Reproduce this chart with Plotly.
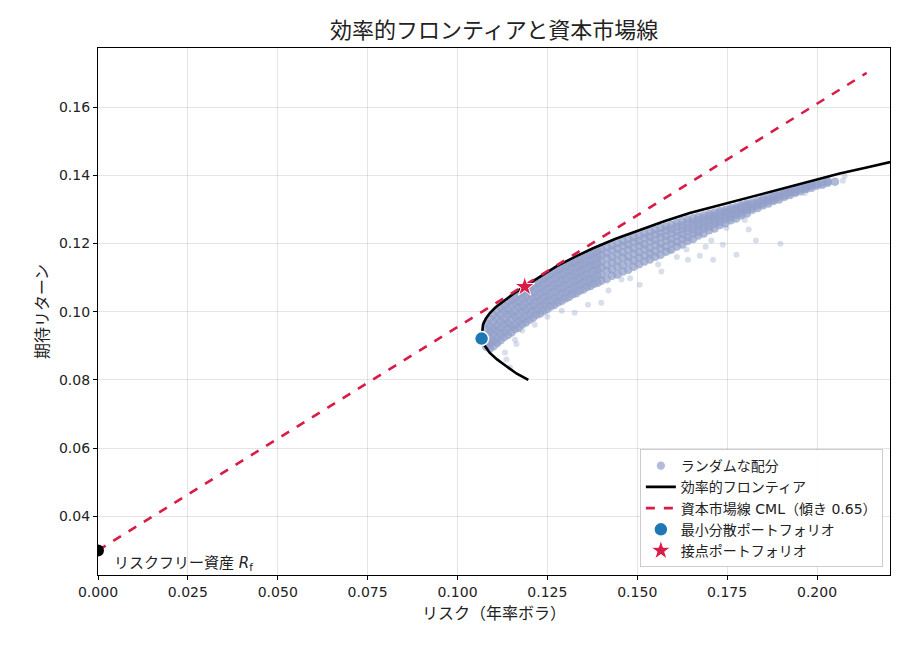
import plotly.graph_objects as go

# efficient frontier (risk, return), bottom branch first
frontier_risk = [0.1197, 0.1165, 0.1136, 0.1110, 0.1090, 0.1076, 0.1067, 0.1068, 0.1071, 0.1079,
                 0.1090, 0.1106, 0.1127, 0.1155, 0.1187, 0.1230, 0.1275, 0.1325, 0.1377, 0.1440,
                 0.1507, 0.1575, 0.1646, 0.1715, 0.1785, 0.1855, 0.1924, 0.1995, 0.2063, 0.2135,
                 0.2207, 0.2240]
frontier_ret = [0.0800, 0.0818, 0.0840, 0.0860, 0.0879, 0.0900, 0.0923, 0.0943, 0.0962, 0.0980,
                0.0996, 0.1013, 0.1030, 0.1052, 0.1074, 0.1104, 0.1133, 0.1160, 0.1186, 0.1214,
                0.1240, 0.1265, 0.1289, 0.1308, 0.1327, 0.1347, 0.1366, 0.1386, 0.1405, 0.1422,
                0.1439, 0.1447]

# capital market line
cml_risk = [0.0, 0.2138]
cml_ret = [0.030, 0.170]

risk_free = 0.030
min_var = (0.1067, 0.0921)
tangent = (0.1187, 0.1073)

# random portfolios: dense band under the frontier, one column of returns per risk value
core_risk = [0.1080, 0.1090, 0.1100, 0.1110, 0.1120, 0.1130, 0.1140, 0.1150, 0.1160, 0.1170,
             0.1180, 0.1190, 0.1200, 0.1210, 0.1220, 0.1230, 0.1240, 0.1250, 0.1260, 0.1270,
             0.1280, 0.1290, 0.1300, 0.1310, 0.1320, 0.1330, 0.1340, 0.1350, 0.1360, 0.1370,
             0.1380, 0.1390, 0.1400, 0.1415, 0.1430, 0.1445, 0.1460, 0.1475, 0.1490, 0.1505,
             0.1520, 0.1535, 0.1550, 0.1565, 0.1580, 0.1595, 0.1610, 0.1625, 0.1640, 0.1655,
             0.1670, 0.1685, 0.1700, 0.1715, 0.1730, 0.1745, 0.1760, 0.1775, 0.1790, 0.1805,
             0.1820, 0.1835, 0.1850, 0.1865, 0.1880, 0.1895, 0.1910, 0.1925, 0.1940, 0.1955,
             0.1970, 0.1985, 0.2000, 0.2015, 0.2030, 0.2050]
core_ret = [
    [0.0897, 0.0913, 0.0931, 0.0947, 0.0966],
    [0.0891, 0.0906, 0.0921, 0.0941, 0.0957, 0.0979],
    [0.0899, 0.0914, 0.0932, 0.0949, 0.0969, 0.0991],
    [0.0909, 0.0925, 0.0945, 0.0961, 0.0982, 0.1002],
    [0.0916, 0.0935, 0.0952, 0.0972, 0.0991, 0.1012],
    [0.0926, 0.0942, 0.0963, 0.0979, 0.1001, 0.1019],
    [0.0932, 0.0951, 0.0967, 0.0990, 0.1007, 0.1028],
    [0.0939, 0.0958, 0.0977, 0.0995, 0.1017, 0.1035],
    [0.0949, 0.0963, 0.0985, 0.1003, 0.1025, 0.1043],
    [0.0953, 0.0973, 0.0990, 0.1012, 0.1030, 0.1050],
    [0.0963, 0.0979, 0.1000, 0.1017, 0.1039, 0.1056],
    [0.0968, 0.0988, 0.1005, 0.1026, 0.1044, 0.1063],
    [0.0976, 0.0993, 0.1014, 0.1031, 0.1053, 0.1070],
    [0.0982, 0.1002, 0.1019, 0.1040, 0.1058, 0.1077],
    [0.0991, 0.1007, 0.1028, 0.1045, 0.1067, 0.1084],
    [0.0995, 0.1016, 0.1033, 0.1054, 0.1071, 0.1091],
    [0.1003, 0.1021, 0.1042, 0.1059, 0.1080, 0.1098],
    [0.1008, 0.1029, 0.1046, 0.1067, 0.1085, 0.1104],
    [0.1016, 0.1033, 0.1054, 0.1072, 0.1093, 0.1110],
    [0.1020, 0.1041, 0.1059, 0.1080, 0.1097, 0.1117],
    [0.1028, 0.1046, 0.1067, 0.1084, 0.1105, 0.1122],
    [0.1032, 0.1054, 0.1071, 0.1092, 0.1109, 0.1128],
    [0.1039, 0.1057, 0.1078, 0.1095, 0.1116, 0.1133],
    [0.1043, 0.1064, 0.1082, 0.1103, 0.1120, 0.1139],
    [0.1051, 0.1068, 0.1089, 0.1106, 0.1127, 0.1144],
    [0.1054, 0.1075, 0.1092, 0.1113, 0.1130, 0.1149],
    [0.1061, 0.1078, 0.1099, 0.1116, 0.1137, 0.1154],
    [0.1065, 0.1086, 0.1103, 0.1124, 0.1140, 0.1159],
    [0.1072, 0.1089, 0.1110, 0.1127, 0.1147, 0.1164],
    [0.1075, 0.1096, 0.1113, 0.1134, 0.1150, 0.1169],
    [0.1082, 0.1099, 0.1120, 0.1137, 0.1157, 0.1174],
    [0.1085, 0.1106, 0.1123, 0.1143, 0.1160, 0.1178],
    [0.1091, 0.1108, 0.1129, 0.1146, 0.1166, 0.1183],
    [0.1096, 0.1119, 0.1136, 0.1157, 0.1173, 0.1189],
    [0.1105, 0.1124, 0.1144, 0.1161, 0.1181, 0.1195],
    [0.1109, 0.1132, 0.1149, 0.1169, 0.1185, 0.1201],
    [0.1118, 0.1137, 0.1158, 0.1174, 0.1193, 0.1207],
    [0.1123, 0.1146, 0.1162, 0.1182, 0.1197, 0.1213],
    [0.1132, 0.1150, 0.1170, 0.1186, 0.1205, 0.1219],
    [0.1139, 0.1159, 0.1175, 0.1194, 0.1208, 0.1224],
    [0.1147, 0.1164, 0.1183, 0.1198, 0.1216, 0.1229],
    [0.1153, 0.1172, 0.1187, 0.1206, 0.1220, 0.1235],
    [0.1161, 0.1177, 0.1196, 0.1210, 0.1227, 0.1240],
    [0.1167, 0.1186, 0.1200, 0.1218, 0.1231, 0.1245],
    [0.1176, 0.1191, 0.1209, 0.1222, 0.1238, 0.1250],
    [0.1182, 0.1200, 0.1213, 0.1230, 0.1242, 0.1255],
    [0.1191, 0.1205, 0.1222, 0.1234, 0.1249, 0.1260],
    [0.1197, 0.1214, 0.1226, 0.1241, 0.1252, 0.1265],
    [0.1207, 0.1219, 0.1235, 0.1245, 0.1259, 0.1270],
    [0.1213, 0.1229, 0.1240, 0.1253, 0.1262, 0.1274],
    [0.1223, 0.1234, 0.1248, 0.1257, 0.1269, 0.1278],
    [0.1229, 0.1244, 0.1253, 0.1265, 0.1273, 0.1282],
    [0.1239, 0.1249, 0.1262, 0.1269, 0.1280, 0.1287],
    [0.1244, 0.1258, 0.1266, 0.1277, 0.1283, 0.1291],
    [0.1254, 0.1263, 0.1274, 0.1280, 0.1290, 0.1295],
    [0.1259, 0.1271, 0.1278, 0.1288, 0.1293, 0.1299],
    [0.1268, 0.1276, 0.1286, 0.1291, 0.1299, 0.1303],
    [0.1273, 0.1284, 0.1290, 0.1299, 0.1302, 0.1307],
    [0.1283, 0.1289, 0.1298, 0.1302, 0.1309, 0.1312],
    [0.1288, 0.1298, 0.1302, 0.1310, 0.1313, 0.1317],
    [0.1299, 0.1305, 0.1314, 0.1320],
    [0.1304, 0.1313, 0.1318, 0.1325],
    [0.1312, 0.1317, 0.1326, 0.1331],
    [0.1317, 0.1325, 0.1329, 0.1336],
    [0.1325, 0.1329, 0.1337, 0.1341],
    [0.1329, 0.1337, 0.1340, 0.1346],
    [0.1337, 0.1341, 0.1348, 0.1351],
    [0.1342, 0.1349, 0.1351, 0.1356],
    [0.1349, 0.1352, 0.1359, 0.1361],
    [0.1353, 0.1360, 0.1363],
    [0.1360, 0.1363, 0.1368],
    [0.1363, 0.1370, 0.1373],
    [0.1370, 0.1374],
    [0.1372, 0.1378],
    [0.1378, 0.1382],
    [0.1381],
]

# scattered portfolios away from the dense band
outlier_risk = [0.1095, 0.1112, 0.1132, 0.1136, 0.1146, 0.1160, 0.1164, 0.1215, 0.1250, 0.1290,
                0.1326, 0.1363, 0.1400, 0.1456, 0.1507, 0.1535, 0.1558, 0.1567, 0.1591, 0.1637,
                0.1641, 0.1674, 0.1706, 0.1711, 0.1738, 0.1748, 0.1776, 0.1799, 0.1810, 0.1830,
                0.1887, 0.1898, 0.1966, 0.2072, 0.2077, 0.1180, 0.1420, 0.1480, 0.1610, 0.1690]
outlier_ret = [0.0909, 0.0903, 0.0880, 0.0860, 0.0836, 0.0918, 0.0905, 0.0962, 0.0985, 0.1003,
               0.0997, 0.1020, 0.1026, 0.1094, 0.1079, 0.1162, 0.1138, 0.1118, 0.1177, 0.1182,
               0.1152, 0.1164, 0.1209, 0.1152, 0.1196, 0.1245, 0.1167, 0.1269, 0.1241, 0.1209,
               0.1328, 0.1199, 0.1348, 0.1384, 0.1398, 0.0945, 0.1062, 0.1098, 0.1160, 0.1190]

rand_risk = []
rand_ret = []
for r, rets in zip(core_risk, core_ret):
    rand_risk += [r] * len(rets)
    rand_ret += rets
n_core = len(rand_risk)
rand_risk += outlier_risk
rand_ret += outlier_ret
# dense band drawn bigger/more opaque so overlapping points read as a solid cloud
rand_alpha = [0.75] * n_core + [0.35] * len(outlier_risk)
rand_size = [8.5] * n_core + [6] * len(outlier_risk)

font = 'DejaVu Sans, Noto Sans CJK JP, sans-serif'
red = '#d81b47'

fig = go.Figure()
fig.add_trace(go.Scatter(x=rand_risk, y=rand_ret, mode='markers', name='ランダムな配分',
                         marker=dict(color='#93a0c9', size=rand_size, opacity=rand_alpha,
                                     line=dict(width=0))))
fig.add_trace(go.Scatter(x=frontier_risk, y=frontier_ret, mode='lines', name='効率的フロンティア',
                         line=dict(color='black', width=2.6)))
fig.add_trace(go.Scatter(x=cml_risk, y=cml_ret, mode='lines', name='資本市場線 CML（傾き 0.65）',
                         line=dict(color=red, width=2.6, dash='dash')))
fig.add_trace(go.Scatter(x=[min_var[0]], y=[min_var[1]], mode='markers', name='最小分散ポートフォリオ',
                         marker=dict(color='#1f77b4', size=14, line=dict(color='white', width=1.5))))
fig.add_trace(go.Scatter(x=[tangent[0]], y=[tangent[1]], mode='markers', name='接点ポートフォリオ',
                         marker=dict(color=red, symbol='star', size=15, line=dict(color='white', width=1))))
fig.add_trace(go.Scatter(x=[0.0], y=[risk_free], mode='markers', showlegend=False,
                         marker=dict(color='black', size=12)))

fig.add_annotation(x=0.004, y=0.0228, xanchor='left', yanchor='bottom', showarrow=False,
                   text='リスクフリー資産 <i>R</i><sub>f</sub>', font=dict(size=15, color='#222'))

fig.update_xaxes(title=dict(text='リスク（年率ボラ）', standoff=8, font=dict(size=16)),
                 range=[0, 0.2203], dtick=0.025, tickformat='.3f',
                 showline=True, linecolor='black', linewidth=1.2, mirror=True,
                 ticks='outside', ticklen=4, tickcolor='black',
                 showgrid=True, gridcolor='rgba(0,0,0,0.1)', zeroline=False, tickfont=dict(size=14))
fig.update_yaxes(title=dict(text='期待リターン', standoff=6, font=dict(size=16)),
                 range=[0.0228, 0.1773], dtick=0.02, tickformat='.2f',
                 showline=True, linecolor='black', linewidth=1.2, mirror=True,
                 ticks='outside', ticklen=4, tickcolor='black',
                 showgrid=True, gridcolor='rgba(0,0,0,0.1)', zeroline=False, tickfont=dict(size=14))
fig.update_layout(
    width=902, height=642,
    title=dict(text='効率的フロンティアと資本市場線', x=0.539, xanchor='center',
               y=0.966, yanchor='middle', font=dict(size=22, color='#222')),
    font=dict(family=font, color='#222'),
    plot_bgcolor='white', paper_bgcolor='white',
    margin=dict(l=90, r=20, t=40, b=75),
    legend=dict(x=0.991, y=0.015, xanchor='right', yanchor='bottom',
                bgcolor='rgba(255,255,255,0.9)', bordercolor='#cccccc', borderwidth=1,
                font=dict(size=14)),
)

fig.write_html('out.html')
